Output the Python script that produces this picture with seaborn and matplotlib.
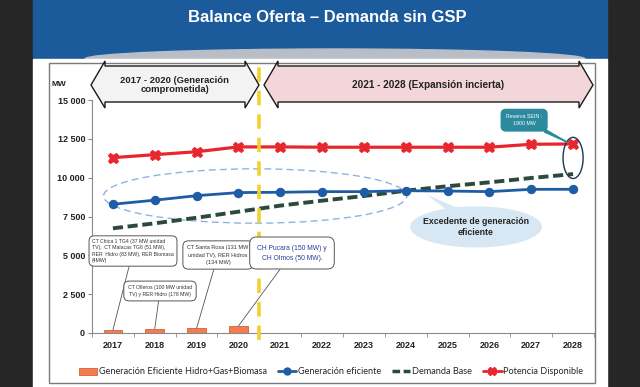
import numpy as np
import pandas as pd
import matplotlib
matplotlib.use("Agg")
import matplotlib.pyplot as plt
import seaborn as sns
from matplotlib.patches import Rectangle, Polygon, Ellipse
from matplotlib.lines import Line2D
from matplotlib.transforms import Affine2D

# ---------------- data ----------------
years = ["2017", "2018", "2019", "2020", "2021", "2022",
         "2023", "2024", "2025", "2026", "2027", "2028"]
gen_bars = [200, 280, 300, 450, np.nan, np.nan,
            np.nan, np.nan, np.nan, np.nan, np.nan, np.nan]
gen_eficiente = [8290, 8550, 8840, 9040, 9060, 9100,
                 9100, 9160, 9140, 9100, 9250, 9250]
demanda_base = [6740, 7060, 7420, 7810, 8200, 8520,
                8820, 9160, 9450, 9700, 9980, 10230]
potencia = [11290, 11480, 11670, 11980, 11980, 11960,
            11960, 11960, 11960, 11960, 12150, 12170]
ytick_vals = [0, 2500, 5000, 7500, 10000, 12500, 15000]
ytick_labels = ["0", "2 500", "5 000", "7 500", "10 000", "12 500", "15 000"]

title = "Balance Oferta \u2013 Demanda sin GSP"
left_period = "2017 - 2020 (Generación\ncomprometida)"
right_period = "2021 - 2028 (Expansión incierta)"
callouts = [
    "CT Chica 1 TG4 (37 MW unidad\nTV),  CT Malacas TG6 (51 MW),\nRER  Hidro (83 MW), RER Biomasa\n(4MW)",
    "CT Olleros (100 MW unidad\nTV) y RER Hidro (178 MW)",
    "CT Santa Rosa (131 MW\nunidad TV), RER Hidros\n(134 MW)",
    "CH Pucara (150 MW) y\nCH Olmos (50 MW).",
]
legend_labels = ["Generación Eficiente Hidro+Gas+Biomasa", "Generación eficiente",
                 "Demanda Base", "Potencia Disponible"]

# ---------------- style ----------------
sns.set_style("white")
plt.rcParams["font.family"] = ["Liberation Sans", "DejaVu Sans"]

W, H = 640, 387
fig = plt.figure(figsize=(W / 100, H / 100), dpi=100)
fig.patch.set_facecolor("white")
px = Affine2D().scale(1 / W, -1 / H).translate(0, 1) + fig.transFigure

# background slide
fig.patches.append(Rectangle((0, 0), 33, H, transform=px, color="#262626", zorder=-5))
fig.patches.append(Rectangle((607, 0), W - 607, H, transform=px, color="#262626", zorder=-5))
fig.patches.append(Rectangle((33, 0), 574, 58, transform=px, color="#1b5b9c", zorder=-5))
fig.patches.append(Ellipse((335, 59), 500, 20, transform=px, color="#b9bec6", zorder=-4))
fig.patches.append(Rectangle((33, 59), 574, H - 59, transform=px, color="white", zorder=-3))
fig.text(327, 18, title, transform=px, ha="center", va="center", color="white",
         fontsize=12, fontweight="bold")

# chart frame
fig.patches.append(Rectangle((49, 63), 546, 320, transform=px, fill=False,
                             edgecolor="#7a7a7a", lw=1.0, zorder=-2))

# ---------------- axes ----------------
ax = fig.add_axes([92 / W, (H - 333) / H, (594 - 92) / W, 233 / H])
ax.set_facecolor("none")
pos = np.arange(len(years))

df_bar = pd.DataFrame({"year": years, "val": gen_bars})
sns.barplot(data=df_bar, x="year", y="val", order=years, ax=ax, color="#f47c50",
            width=0.45, edgecolor="#d35f36", linewidth=0.6, saturation=1, zorder=2)

sns.lineplot(x=pos, y=demanda_base, ax=ax, color="#2c4a3b", lw=2.8,
             linestyle=(0, (2.6, 1.2)), zorder=3)
sns.lineplot(x=pos, y=gen_eficiente, ax=ax, color="#1f5ca6", lw=2.0, marker="o",
             markersize=6, markeredgecolor="#1f5ca6", zorder=4)
sns.lineplot(x=pos, y=potencia, ax=ax, color="#e8262d", lw=2.3, marker="X",
             markersize=7.5, markeredgecolor="#e8262d", zorder=5)

ax.set_xlim(-0.5, len(years) - 0.5)
ax.set_ylim(0, 15000)
ax.set_xlabel("")
ax.set_ylabel("")
ax.set_yticks(ytick_vals)
ax.set_yticklabels(ytick_labels, fontsize=6.5, fontweight="bold", color="#222222")
ax.set_xticks(pos)
ax.set_xticklabels(years, fontsize=6.5, fontweight="bold", color="#222222")
ax.set_xticks(np.arange(-0.5, len(years)), minor=True)
ax.tick_params(axis="x", which="major", length=0, pad=6)
ax.tick_params(axis="x", which="minor", length=3, color="#888888", direction="out", bottom=True)
ax.tick_params(axis="y", length=3, color="#888888", direction="out", pad=2, left=True)
for s in ["top", "right"]:
    ax.spines[s].set_visible(False)
for s in ["left", "bottom"]:
    ax.spines[s].set_color("#8a8a8a")
    ax.spines[s].set_linewidth(0.8)
if ax.get_legend():
    ax.get_legend().remove()

fig.text(59, 85, "MW", transform=px, ha="center", va="center", fontsize=6,
         fontweight="bold", color="#222222")

# yellow divider
ax.axvline(3.5, ymin=-0.03, ymax=(333 - 62) / 233, color="#f2d12e", lw=2.6,
           linestyle=(0, (4, 2.5)), clip_on=False, zorder=6)

# period arrows
def block_arrow(x0, x1, fc):
    hl = 14
    pts = [(x0, 85), (x0 + hl, 61), (x0 + hl, 66), (x1 - hl, 66), (x1 - hl, 61),
           (x1, 85), (x1 - hl, 108), (x1 - hl, 102), (x0 + hl, 102), (x0 + hl, 108)]
    fig.patches.append(Polygon(pts, closed=True, transform=px, facecolor=fc,
                               edgecolor="#1a1a1a", lw=1.0, zorder=2))

block_arrow(91, 259, "#f3f3f3")
block_arrow(264, 593, "#f2d6da")
fig.text(175, 85, left_period, transform=px, ha="center", va="center",
         fontsize=6.8, fontweight="bold", color="#222222", linespacing=1.1, zorder=3)
fig.text(428, 85, right_period, transform=px, ha="center", va="center",
         fontsize=7.2, fontweight="bold", color="#222222", zorder=3)

# dashed ellipse around efficient generation
ax.add_patch(Ellipse((3.4, 8820), 7.25, 3500, fill=False, edgecolor="#8fb3df",
                     lw=1.0, linestyle=(0, (5, 3)), zorder=2))

# excedente cloud
ax.add_patch(Polygon([(7.5, 8900), (8.3, 7300), (8.9, 7300)], closed=True,
                     facecolor="#d7e8f4", edgecolor="none", zorder=1))
ax.add_patch(Ellipse((8.68, 6830), 3.15, 2650, facecolor="#d7e8f4",
                     edgecolor="none", zorder=1))
ax.text(8.68, 6830, "Excedente de generación\neficiente", ha="center", va="center",
        fontsize=6.3, fontweight="bold", color="#222222", linespacing=1.2, zorder=2)

# reserve annotation
ax.add_patch(Ellipse((11, 11270), 0.48, 2650, fill=False, edgecolor="#1e3552",
                     lw=1.0, zorder=6, clip_on=False))
ax.annotate("Reserva SEIN :\n1900 MW", xy=(10.85, 12300), xytext=(9.83, 13700),
            ha="center", va="center", fontsize=3.8, color="white", linespacing=1.5,
            bbox=dict(boxstyle="round,pad=0.9", fc="#2b8a9d", ec="#2b8a9d"),
            arrowprops=dict(arrowstyle="wedge,tail_width=0.5", fc="#2b8a9d",
                            ec="#2b8a9d", shrinkA=0, shrinkB=0),
            zorder=7)

# callouts
box_pos = [(133, 251), (160, 291), (218, 255), (292, 253)]
box_fs = [3.7, 3.7, 4.0, 4.9]
box_ls = [1.35, 1.4, 1.55, 1.6]
box_pad = [0.6, 0.8, 0.8, 1.1]
box_col = ["#333333", "#333333", "#333333", "#2a3f9a"]
box_ha = ["left", "center", "center", "center"]
for i, txt in enumerate(callouts):
    xt, yt = box_pos[i]
    ax.annotate(txt, xy=(i, gen_bars[i]), xycoords="data",
                xytext=(xt, yt), textcoords=px,
                ha="center", va="center", multialignment=box_ha[i],
                fontsize=box_fs[i], color=box_col[i], linespacing=box_ls[i],
                bbox=dict(boxstyle=f"round,pad={box_pad[i]},rounding_size=1.0", fc="white",
                          ec="#555555", lw=0.7),
                arrowprops=dict(arrowstyle="-", color="#555555", lw=0.6,
                                shrinkA=0, shrinkB=0),
                zorder=8, annotation_clip=False)

# legend
handles = [
    Rectangle((0, 0), 1, 1, facecolor="#f47c50", edgecolor="#d35f36", lw=0.6),
    Line2D([], [], color="#1f5ca6", lw=2.0, marker="o", markersize=5),
    Line2D([], [], color="#2c4a3b", lw=2.5, linestyle=(0, (2.2, 1.0))),
    Line2D([], [], color="#e8262d", lw=2.0, marker="X", markersize=6),
]
fig.legend(handles, legend_labels, loc="center", bbox_to_anchor=(331 / W, 1 - 372 / H),
           ncol=4, frameon=False, handlelength=2.0, handletextpad=0.2,
           columnspacing=1.2, prop={"family": ["Lato", "DejaVu Sans"], "size": 6.6})

fig.savefig("out.png", dpi=100, facecolor=fig.get_facecolor())
